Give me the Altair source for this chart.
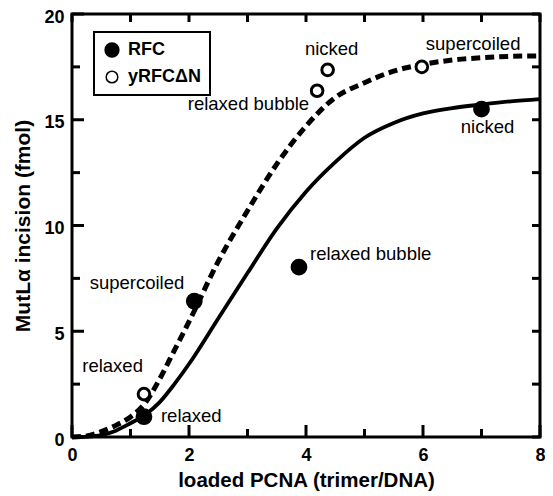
import altair as alt
import pandas as pd

# ---- data ----
series_names = ["RFC", "yRFCΔN"]

x_rfc = [1.23, 2.09, 3.88, 7.0]
y_rfc = [0.96, 6.42, 8.03, 15.5]
lab_rfc = ["relaxed", "supercoiled", "relaxed bubble", "nicked"]

x_dn = [1.23, 4.19, 4.37, 5.98]
y_dn = [2.03, 16.37, 17.36, 17.5]
lab_dn = ["relaxed", "relaxed bubble", "nicked", "supercoiled"]

curve_x = [0, 0.25, 0.5, 0.75, 1.0, 1.25, 1.5, 1.75, 2.0, 2.5, 3.0, 3.5,
           4.0, 4.5, 5.0, 5.5, 6.0, 6.5, 7.0, 7.5, 8.0]
fit_rfc = [0, 0.02, 0.09, 0.3, 0.65, 1.05, 1.65, 2.5, 3.45, 5.6, 7.75, 9.85,
           11.6, 13.0, 14.15, 14.85, 15.3, 15.55, 15.72, 15.87, 15.98]
fit_dn = [0, 0.05, 0.25, 0.55, 0.95, 1.6, 2.75, 4.1, 5.45, 8.3, 10.7, 12.9,
          14.7, 16.05, 16.75, 17.3, 17.62, 17.82, 17.93, 18.0, 18.02]

x_major = [0, 2, 4, 6, 8]
x_minor = [1, 3, 5, 7]
y_major = [0, 5, 10, 15, 20]
y_minor = [2.5, 7.5, 12.5, 17.5]

W, H = 468, 423
FONT = "Liberation Sans"
XMIN, XMAX, YMIN, YMAX = 0, 8, 0, 20

# ---- tables ----
pts = pd.DataFrame({
    "x": x_rfc + x_dn,
    "y": y_rfc + y_dn,
    "series": [series_names[0]] * len(x_rfc) + [series_names[1]] * len(x_dn),
    "label": lab_rfc + lab_dn,
})

rows = []
for s, fit in zip(series_names, [fit_rfc, fit_dn]):
    for i, (xv, yv) in enumerate(zip(curve_x, fit)):
        rows.append({"x": xv, "y": yv, "series": s, "id": s, "o": i})

# inward tick segments (frame decoration), lengths in px -> data units
ypx = (YMAX - YMIN) / H
xpx = (XMAX - XMIN) / W
k = [0]
def add(x0, y0, x1, y1):
    rows.append({"x": x0, "y": y0, "series": "tick", "id": "t%d" % k[0], "o": 0})
    rows.append({"x": x1, "y": y1, "series": "tick", "id": "t%d" % k[0], "o": 1})
    k[0] += 1
for v in x_major:
    add(v, YMIN, v, YMIN + 12 * ypx)
for v in x_minor:
    add(v, YMIN, v, YMIN + 8 * ypx)
for v in x_major + x_minor:
    add(v, YMAX, v, YMAX - 8 * ypx)
for v in y_major:
    add(XMIN, v, XMIN + 12 * xpx, v)
for v in y_minor:
    add(XMIN, v, XMIN + 8 * xpx, v)
for v in y_major + y_minor:
    add(XMAX, v, XMAX - 8 * xpx, v)
lines_df = pd.DataFrame(rows)

xs = alt.Scale(domain=[XMIN, XMAX], nice=False, zero=False)
ys = alt.Scale(domain=[YMIN, YMAX], nice=False, zero=False)

xaxis = alt.Axis(values=x_major, title="loaded PCNA (trimer/DNA)", labelFlush=False,
                 labelPadding=9, titlePadding=6, format="d", titleFontSize=20.5)
yaxis = alt.Axis(values=y_major, title="MutLα incision (fmol)", labelFlush=False,
                 labelPadding=8, titlePadding=10, format="d", labelOffset=3,
                 titleFontSize=21)

base_c = alt.Chart(lines_df)
solid = base_c.transform_filter(alt.datum.series == series_names[0]).mark_line(
    color="black", strokeWidth=3.8, interpolate="monotone"
).encode(x=alt.X("x:Q", scale=xs, axis=xaxis), y=alt.Y("y:Q", scale=ys, axis=yaxis))
dashed = base_c.transform_filter(alt.datum.series == series_names[1]).mark_line(
    color="black", strokeWidth=5, strokeDash=[9, 5], interpolate="monotone"
).encode(x=alt.X("x:Q", scale=xs), y=alt.Y("y:Q", scale=ys))
ticks = base_c.transform_filter(alt.datum.series == "tick").mark_line(
    color="black", strokeWidth=3, strokeCap="butt"
).encode(x=alt.X("x:Q", scale=xs), y=alt.Y("y:Q", scale=ys),
         detail="id:N", order="o:Q")

leg = alt.Legend(title=None, orient="none", legendX=22, legendY=18, rowPadding=8,
                 padding=9)
points = alt.Chart(pts).mark_point(
    shape="circle", filled=True, strokeWidth=3, opacity=1
).encode(
    x=alt.X("x:Q", scale=xs),
    y=alt.Y("y:Q", scale=ys),
    fill=alt.Fill("series:N", scale=alt.Scale(domain=series_names, range=["black", "white"]),
                  legend=leg),
    stroke=alt.Stroke("series:N", scale=alt.Scale(domain=series_names, range=["black", "black"]),
                      legend=leg),
    size=alt.Size("series:N", scale=alt.Scale(domain=series_names, range=[190, 135]),
                  legend=leg),
)

# label offsets (style): (dx, dy, align)
offsets = {
    (series_names[0], "relaxed"): (17, -1, "left"),
    (series_names[0], "supercoiled"): (-10, -18, "right"),
    (series_names[0], "relaxed bubble"): (11, -13, "left"),
    (series_names[0], "nicked"): (6, 18, "center"),
    (series_names[1], "relaxed"): (-1, -28, "right"),
    (series_names[1], "relaxed bubble"): (-8, 13, "right"),
    (series_names[1], "nicked"): (4, -21, "center"),
    (series_names[1], "supercoiled"): (4, -23, "left"),
}
texts = []
for (s, lab), (dx, dy, al) in offsets.items():
    texts.append(
        alt.Chart(pts).transform_filter(
            (alt.datum.series == s) & (alt.datum.label == lab)
        ).mark_text(align=al, baseline="middle", dx=dx, dy=dy, font=FONT,
                    fontSize=18.5, color="black").encode(
            x=alt.X("x:Q", scale=xs), y=alt.Y("y:Q", scale=ys), text="label:N")
    )

chart = alt.layer(solid, dashed, ticks, points, *texts).properties(
    width=W, height=H,
    autosize=alt.AutoSizeParams(type="none"),
    padding={"left": 64, "top": 6, "right": 5, "bottom": 55},
).configure_view(
    stroke="black", strokeWidth=3
).configure_axis(
    grid=False, ticks=False, domain=False,
    labelFont=FONT, labelFontSize=18, labelFontWeight="bold", labelColor="black",
    titleFont=FONT, titleFontWeight="bold", titleColor="black",
).configure_legend(
    strokeColor="black", strokeWidth=2,
    labelFont=FONT, labelFontSize=18, labelFontWeight="bold", labelColor="black",
    labelOffset=7,
)

chart.save("out.html", embed_options={"renderer": "svg", "actions": False})
